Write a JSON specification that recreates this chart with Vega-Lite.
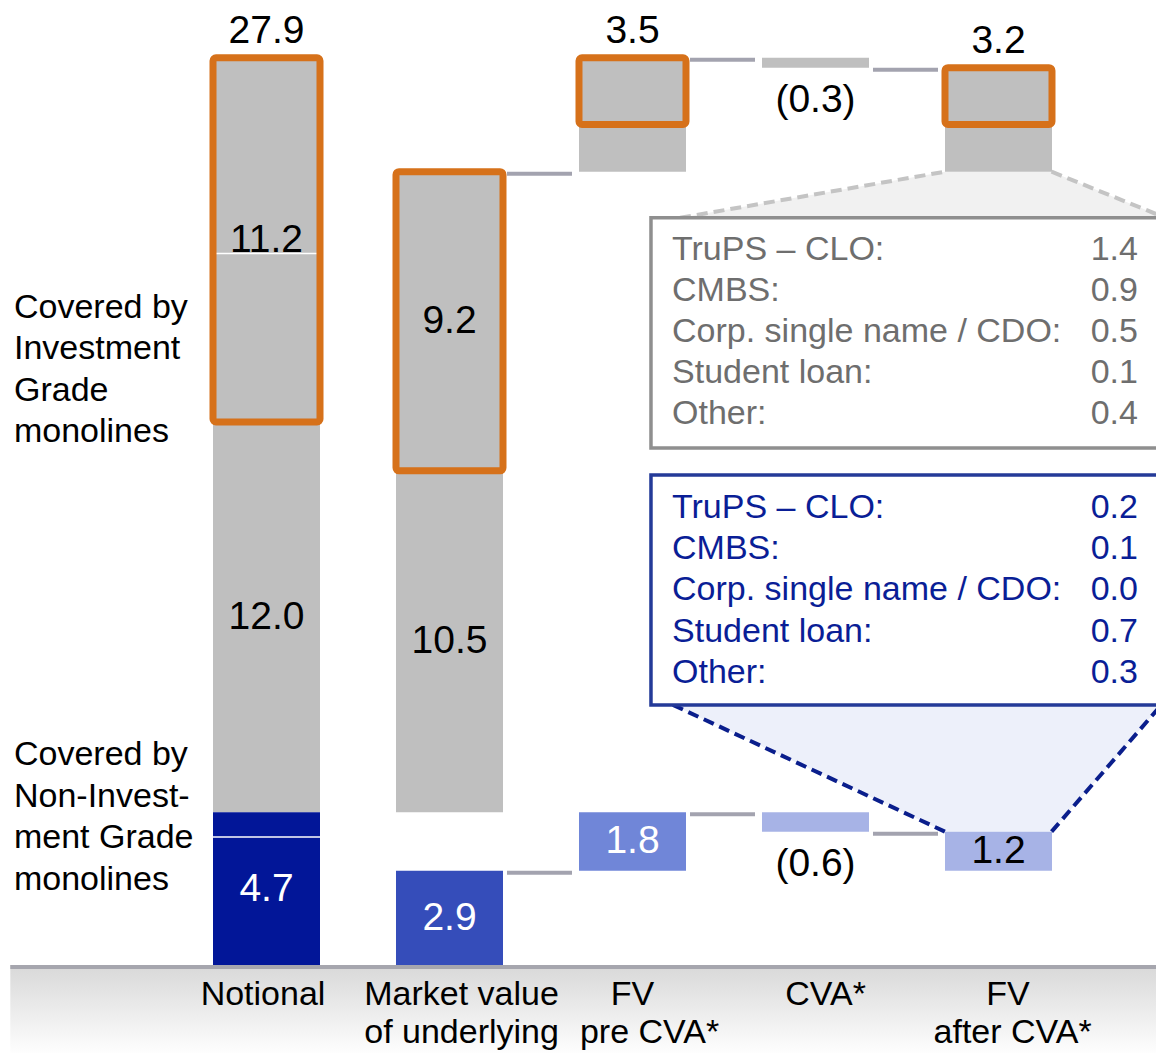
{
  "$schema": "https://vega.github.io/schema/vega-lite/v6.json",
  "width": 1156,
  "height": 1053,
  "autosize": "none",
  "padding": 0,
  "config": {"view": {"stroke": null}, "text": {"font": "Liberation Sans"}},
  "resolve": {"scale": {"color": "independent", "stroke": "independent", "fill": "independent"}},
  "datasets": {
    "bars": [
      {"cat": "Notional", "i": 0, "part": "grey", "lo": 4.7, "hi": 27.9},
      {"cat": "Notional", "i": 0, "part": "nig_notional", "lo": 0, "hi": 4.7},
      {"cat": "Market value of underlying", "i": 1, "part": "grey", "lo": 4.7, "hi": 24.4},
      {"cat": "Market value of underlying", "i": 1, "part": "nig_mv", "lo": 0, "hi": 2.9},
      {"cat": "FV pre CVA*", "i": 2, "part": "grey", "lo": 24.4, "hi": 27.9},
      {"cat": "FV pre CVA*", "i": 2, "part": "nig_fvpre", "lo": 2.9, "hi": 4.7},
      {"cat": "CVA*", "i": 3, "part": "grey", "lo": 27.6, "hi": 27.9},
      {"cat": "CVA*", "i": 3, "part": "nig_cva", "lo": 4.1, "hi": 4.7},
      {"cat": "FV after CVA*", "i": 4, "part": "grey", "lo": 24.4, "hi": 27.6},
      {"cat": "FV after CVA*", "i": 4, "part": "nig_cva", "lo": 2.9, "hi": 4.1}
    ],
    "ig": [
      {"i": 0, "lo": 16.7, "hi": 27.9},
      {"i": 1, "lo": 15.2, "hi": 24.4},
      {"i": 2, "lo": 25.85, "hi": 27.9},
      {"i": 4, "lo": 25.85, "hi": 27.6}
    ],
    "dividers": [
      {"i": 0, "y": 21.88},
      {"i": 0, "y": 3.94}
    ],
    "connectors": [
      {"from": 1, "to": 2, "y": 24.4},
      {"from": 2, "to": 3, "y": 27.9},
      {"from": 3, "to": 4, "y": 27.6},
      {"from": 1, "to": 2, "y": 2.9},
      {"from": 2, "to": 3, "y": 4.7},
      {"from": 3, "to": 4, "y": 4.1}
    ],
    "midLabels": [
      {"i": 0, "lo": 16.7, "hi": 27.9, "text": "11.2", "tone": "dark"},
      {"i": 0, "lo": 4.7, "hi": 16.7, "text": "12.0", "tone": "dark"},
      {"i": 0, "lo": 0, "hi": 4.7, "text": "4.7", "tone": "light"},
      {"i": 1, "lo": 15.2, "hi": 24.4, "text": "9.2", "tone": "dark"},
      {"i": 1, "lo": 4.7, "hi": 15.2, "text": "10.5", "tone": "dark"},
      {"i": 1, "lo": 0, "hi": 2.9, "text": "2.9", "tone": "light"},
      {"i": 2, "lo": 2.9, "hi": 4.7, "text": "1.8", "tone": "light"},
      {"i": 4, "lo": 2.9, "hi": 4.1, "text": "1.2", "tone": "dark"}
    ],
    "topLabels": [
      {"i": 0, "at": 27.9, "text": "27.9"},
      {"i": 2, "at": 27.9, "text": "3.5"},
      {"i": 4, "at": 27.6, "text": "3.2"}
    ],
    "belowLabels": [
      {"i": 3, "at": 27.6, "text": "(0.3)"},
      {"i": 3, "at": 4.1, "text": "(0.6)"}
    ],
    "trap": [
      {"g": "grey", "y": 24.4, "xl": 3.708, "xr": 4.29},
      {"g": "grey", "y": 22.98, "xl": 2.26, "xr": 4.913},
      {"g": "blue", "y": 8.0, "xl": 2.221, "xr": 4.89},
      {"g": "blue", "y": 4.1, "xl": 3.708, "xr": 4.29}
    ],
    "dash": [
      {"g": "grey", "seg": "g1", "x": 3.708, "y": 24.4},
      {"g": "grey", "seg": "g1", "x": 2.26, "y": 22.98},
      {"g": "grey", "seg": "g2", "x": 4.29, "y": 24.4},
      {"g": "grey", "seg": "g2", "x": 4.913, "y": 22.98},
      {"g": "blue", "seg": "b1", "x": 2.221, "y": 8.0},
      {"g": "blue", "seg": "b1", "x": 3.708, "y": 4.1},
      {"g": "blue", "seg": "b2", "x": 4.89, "y": 8.0},
      {"g": "blue", "seg": "b2", "x": 4.29, "y": 4.1}
    ],
    "boxes": [
      {"g": "grey", "x": 2.101, "x2": 4.95, "top": 22.98, "bottom": 15.9},
      {"g": "blue", "x": 2.101, "x2": 4.95, "top": 15.07, "bottom": 8.0}
    ],
    "boxText": [
      {"g": "grey", "y": 21.99, "label": "TruPS – CLO:", "value": "1.4"},
      {"g": "grey", "y": 20.73, "label": "CMBS:", "value": "0.9"},
      {"g": "grey", "y": 19.47, "label": "Corp. single name / CDO:", "value": "0.5"},
      {"g": "grey", "y": 18.21, "label": "Student loan:", "value": "0.1"},
      {"g": "grey", "y": 16.95, "label": "Other:", "value": "0.4"},
      {"g": "blue", "y": 14.06, "label": "TruPS – CLO:", "value": "0.2"},
      {"g": "blue", "y": 12.8, "label": "CMBS:", "value": "0.1"},
      {"g": "blue", "y": 11.53, "label": "Corp. single name / CDO:", "value": "0.0"},
      {"g": "blue", "y": 10.24, "label": "Student loan:", "value": "0.7"},
      {"g": "blue", "y": 8.98, "label": "Other:", "value": "0.3"}
    ],
    "notes": [
      {"x": -1.38, "y": 20.74, "text": "Covered by\nInvestment\nGrade\nmonolines"},
      {"x": -1.38, "y": 6.98, "text": "Covered by\nNon-Invest-\nment Grade\nmonolines"}
    ],
    "cats": [
      {"x": -0.019, "y": -0.92, "text": "Notional"},
      {"x": 1.066, "y": -0.92, "text": "Market value"},
      {"x": 1.066, "y": -2.09, "text": "of underlying"},
      {"x": 2.0, "y": -0.92, "text": "FV"},
      {"x": 2.093, "y": -2.09, "text": "pre CVA*"},
      {"x": 3.055, "y": -0.92, "text": "CVA*"},
      {"x": 4.052, "y": -0.92, "text": "FV"},
      {"x": 4.077, "y": -2.09, "text": "after CVA*"}
    ],
    "floor": [
      {"x": -1.4, "x2": 4.95, "lo": -2.8, "hi": 0}
    ]
  },
  "layer": [
    {
      "data": {"name": "floor"},
      "mark": {"type": "rect", "fill": {"gradient": "linear", "x1": 0, "y1": 0, "x2": 0, "y2": 1, "stops": [{"offset": 0, "color": "#D8D8D8"}, {"offset": 1, "color": "#FFFFFF"}]}},
      "encoding": {
        "x": {"field": "x", "type": "quantitative", "scale": {"domain": [-1.4563, 4.8607], "nice": false, "zero": false, "padding": 0}, "axis": null},
        "x2": {"field": "x2"},
        "y": {"field": "lo", "type": "quantitative", "scale": {"domain": [-2.707, 29.68], "nice": false, "zero": false, "padding": 0}, "axis": null},
        "y2": {"field": "hi"}
      }
    },
    {
      "data": {"name": "floor"},
      "mark": {"type": "rule", "stroke": "#A6A6AE", "strokeWidth": 4, "yOffset": 2},
      "encoding": {
        "x": {"field": "x", "type": "quantitative"},
        "x2": {"field": "x2"},
        "y": {"field": "hi", "type": "quantitative"}
      }
    },
    {
      "data": {"name": "trap"},
      "mark": {"type": "area", "orient": "horizontal"},
      "encoding": {
        "y": {"field": "y", "type": "quantitative"},
        "x": {"field": "xl", "type": "quantitative", "stack": null},
        "x2": {"field": "xr"},
        "detail": {"field": "g"},
        "fill": {"field": "g", "type": "nominal", "scale": {"domain": ["grey", "blue"], "range": ["#F1F1F1", "#EDF0FA"]}, "legend": null}
      }
    },
    {
      "data": {"name": "dash"},
      "mark": {"type": "line", "strokeWidth": 4, "strokeDash": [11, 6]},
      "encoding": {
        "x": {"field": "x", "type": "quantitative"},
        "y": {"field": "y", "type": "quantitative"},
        "detail": {"field": "seg"},
        "stroke": {"field": "g", "type": "nominal", "scale": {"domain": ["grey", "blue"], "range": ["#C4C4C4", "#0A1E8C"]}, "legend": null}
      }
    },
    {
      "data": {"name": "boxes"},
      "mark": {"type": "rect", "fill": "#FFFFFF", "strokeWidth": 3.5},
      "encoding": {
        "x": {"field": "x", "type": "quantitative"},
        "x2": {"field": "x2"},
        "y": {"field": "bottom", "type": "quantitative"},
        "y2": {"field": "top"},
        "stroke": {"field": "g", "type": "nominal", "scale": {"domain": ["grey", "blue"], "range": ["#8F8F8F", "#243A98"]}, "legend": null}
      }
    },
    {
      "data": {"name": "boxText"},
      "mark": {"type": "text", "align": "left", "baseline": "middle", "fontSize": 34},
      "encoding": {
        "x": {"datum": 2.216, "type": "quantitative"},
        "y": {"field": "y", "type": "quantitative"},
        "text": {"field": "label"},
        "color": {"field": "g", "type": "nominal", "scale": {"domain": ["grey", "blue"], "range": ["#6E6E6E", "#0A1E96"]}, "legend": null}
      }
    },
    {
      "data": {"name": "boxText"},
      "mark": {"type": "text", "align": "right", "baseline": "middle", "fontSize": 34},
      "encoding": {
        "x": {"datum": 4.762, "type": "quantitative"},
        "y": {"field": "y", "type": "quantitative"},
        "text": {"field": "value"},
        "color": {"field": "g", "type": "nominal", "scale": {"domain": ["grey", "blue"], "range": ["#6E6E6E", "#0A1E96"]}, "legend": null}
      }
    },
    {
      "data": {"name": "bars"},
      "mark": {"type": "bar", "width": 107},
      "encoding": {
        "x": {"field": "i", "type": "quantitative"},
        "y": {"field": "lo", "type": "quantitative"},
        "y2": {"field": "hi"},
        "fill": {"field": "part", "type": "nominal", "scale": {"domain": ["grey", "nig_notional", "nig_mv", "nig_fvpre", "nig_cva"], "range": ["#BFBFBF", "#021698", "#354DBA", "#7086D8", "#A7B3E6"]}, "legend": null}
      }
    },
    {
      "data": {"name": "dividers"},
      "mark": {"type": "rule", "stroke": "#FFFFFF", "strokeWidth": 1.5, "xOffset": -53.5, "x2Offset": 53.5},
      "encoding": {
        "x": {"field": "i", "type": "quantitative"},
        "x2": {"field": "i"},
        "y": {"field": "y", "type": "quantitative"}
      }
    },
    {
      "data": {"name": "ig"},
      "mark": {"type": "bar", "width": 107, "fill": "transparent", "stroke": "#D6711A", "strokeWidth": 7, "cornerRadius": 3},
      "encoding": {
        "x": {"field": "i", "type": "quantitative"},
        "y": {"field": "lo", "type": "quantitative"},
        "y2": {"field": "hi"}
      }
    },
    {
      "data": {"name": "connectors"},
      "mark": {"type": "rule", "stroke": "#A3A3AF", "strokeWidth": 4, "xOffset": 57.5, "x2Offset": -60.5, "yOffset": 2},
      "encoding": {
        "x": {"field": "from", "type": "quantitative"},
        "x2": {"field": "to"},
        "y": {"field": "y", "type": "quantitative"}
      }
    },
    {
      "data": {"name": "midLabels"},
      "transform": [{"calculate": "(datum.lo + datum.hi) / 2", "as": "mid"}],
      "mark": {"type": "text", "align": "center", "baseline": "middle", "fontSize": 39},
      "encoding": {
        "x": {"field": "i", "type": "quantitative"},
        "y": {"field": "mid", "type": "quantitative"},
        "text": {"field": "text"},
        "color": {"field": "tone", "type": "nominal", "scale": {"domain": ["dark", "light"], "range": ["#000000", "#FFFFFF"]}, "legend": null}
      }
    },
    {
      "data": {"name": "topLabels"},
      "mark": {"type": "text", "align": "center", "baseline": "middle", "fontSize": 39, "dy": -27, "color": "#000000"},
      "encoding": {
        "x": {"field": "i", "type": "quantitative"},
        "y": {"field": "at", "type": "quantitative"},
        "text": {"field": "text"}
      }
    },
    {
      "data": {"name": "belowLabels"},
      "mark": {"type": "text", "align": "center", "baseline": "middle", "fontSize": 39, "dy": 32, "color": "#000000"},
      "encoding": {
        "x": {"field": "i", "type": "quantitative"},
        "y": {"field": "at", "type": "quantitative"},
        "text": {"field": "text"}
      }
    },
    {
      "data": {"name": "notes"},
      "mark": {"type": "text", "align": "left", "baseline": "top", "fontSize": 34, "lineBreak": "\n", "lineHeight": 41.5, "color": "#000000"},
      "encoding": {
        "x": {"field": "x", "type": "quantitative"},
        "y": {"field": "y", "type": "quantitative"},
        "text": {"field": "text"}
      }
    },
    {
      "data": {"name": "cats"},
      "mark": {"type": "text", "align": "center", "baseline": "middle", "fontSize": 34, "color": "#000000"},
      "encoding": {
        "x": {"field": "x", "type": "quantitative"},
        "y": {"field": "y", "type": "quantitative"},
        "text": {"field": "text"}
      }
    }
  ]
}
